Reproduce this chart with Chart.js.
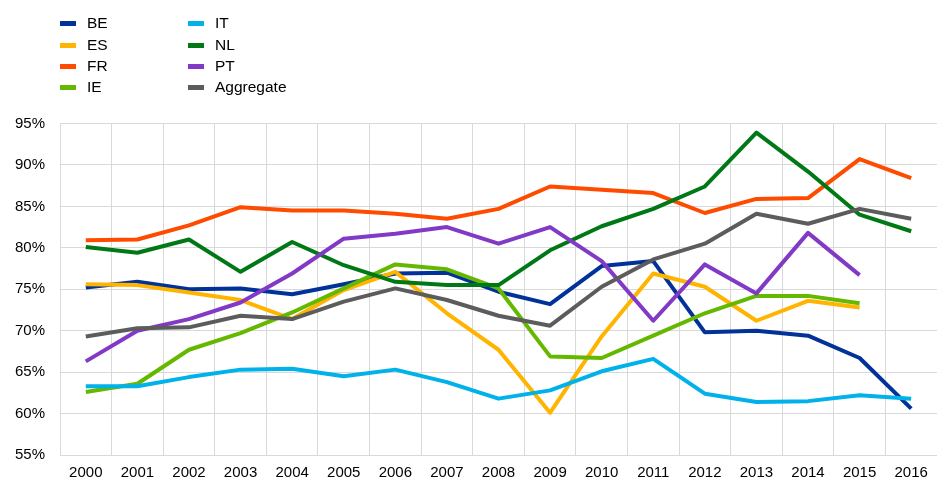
<!DOCTYPE html>
<html>
<head>
<meta charset="utf-8">
<script src="https://cdn.jsdelivr.net/npm/chart.js@4.4.1/dist/chart.umd.min.js"></script>
<style>
  html, body { margin: 0; padding: 0; background: #fff; }
  #wrap { position: relative; width: 937px; height: 480px; }
  #legend { position: absolute; left: 0; top: 0; font-family: "Liberation Sans", Arial, sans-serif; font-size: 15.5px; color: #000; }
  .item { position: absolute; white-space: nowrap; line-height: 16px; }
  .sw { position: absolute; width: 16px; height: 5px; }
</style>
</head>
<body>
<div id="wrap">
  <canvas id="c" width="937" height="480"></canvas>
  <div id="legend"></div>
</div>
<script>
const years = ["2000","2001","2002","2003","2004","2005","2006","2007","2008","2009","2010","2011","2012","2013","2014","2015","2016"];
const BE  = [75.2, 75.9, 75.0, 75.1, 74.4, 75.6, 76.9, 77.0, 74.7, 73.2, 77.8, 78.4, 69.8, 70.0, 69.4, 66.7, 60.6];
const ES  = [75.6, 75.5, 74.6, 73.7, 71.4, 74.9, 77.1, 72.1, 67.7, 60.1, 69.3, 76.9, 75.3, 71.2, 73.6, 72.8, null];
const FR  = [80.9, 81.0, 82.7, 84.9, 84.5, 84.5, 84.1, 83.5, 84.7, 87.4, 87.0, 86.6, 84.2, 85.9, 86.0, 90.7, 88.4];
const IE  = [62.6, 63.6, 67.7, 69.7, 72.2, 75.1, 78.0, 77.4, 75.1, 66.9, 66.7, 69.4, 72.1, 74.2, 74.2, 73.3, null];
const IT  = [63.3, 63.3, 64.4, 65.3, 65.4, 64.5, 65.3, 63.8, 61.8, 62.8, 65.1, 66.6, 62.4, 61.4, 61.5, 62.2, 61.8];
const NL  = [80.1, 79.4, 81.0, 77.1, 80.7, 77.9, 75.9, 75.5, 75.5, 79.7, 82.6, 84.7, 87.4, 93.9, 89.2, 84.0, 82.0];
const PT  = [66.3, 70.0, 71.4, 73.4, 76.9, 81.1, 81.7, 82.5, 80.5, 82.5, 78.4, 71.2, 78.0, 74.5, 81.8, 76.7, null];
const AGG = [69.3, 70.3, 70.4, 71.8, 71.4, 73.5, 75.1, 73.7, 71.8, 70.6, 75.3, 78.6, 80.5, 84.1, 82.9, 84.7, 83.5];

const seriesNames = ["BE", "ES", "FR", "IE", "IT", "NL", "PT", "Aggregate"];
const seriesData = [BE, ES, FR, IE, IT, NL, PT, AGG];
const seriesColors = ["#003299", "#FFB400", "#FF4B00", "#65B800", "#00B1EA", "#007816", "#8139C6", "#5C5C5C"];

const yTicks = [55, 60, 65, 70, 75, 80, 85, 90, 95];

const font = { family: '"Liberation Sans", Arial, sans-serif', size: 15 };

const datasets = seriesNames.map((n, i) => ({
  label: n,
  data: seriesData[i],
  borderColor: seriesColors[i],
  backgroundColor: seriesColors[i],
  borderWidth: 4,
  pointRadius: 0,
  pointHoverRadius: 0,
  tension: 0,
  fill: false,
  spanGaps: false,
  borderJoinStyle: 'round',
  order: seriesNames.length - i
}));

new Chart(document.getElementById('c'), {
  type: 'line',
  data: { labels: years, datasets },
  options: {
    responsive: false,
    animation: false,
    events: [],
    layout: { padding: { top: 123.5, left: 0, right: 0, bottom: 0 } },
    plugins: { legend: { display: false }, tooltip: { enabled: false }, title: { display: false } },
    scales: {
      x: {
        offset: true,
        grid: { offset: true, color: '#d9d9d9', lineWidth: 1, drawTicks: false },
        border: { color: '#d9d9d9' },
        ticks: { font, color: '#000', padding: 9, maxRotation: 0, autoSkip: false },
        afterFit: s => { s.height = 25; }
      },
      y: {
        min: 55, max: 95,
        afterBuildTicks: s => { s.ticks = yTicks.map(v => ({ value: v })); },
        grid: { color: '#d9d9d9', lineWidth: 1, drawTicks: false },
        border: { color: '#d9d9d9' },
        ticks: { font, color: '#000', padding: 15, callback: v => v + '%' },
        afterFit: s => { s.width = 60; }
      }
    }
  }
});

// Custom two-column legend (column-major, 4 rows)
const legend = document.getElementById('legend');
const colX = [60, 188];
const rowY = [23, 45, 66, 87];
seriesNames.forEach((n, i) => {
  const col = Math.floor(i / 4), row = i % 4;
  const sw = document.createElement('div');
  sw.className = 'sw';
  sw.style.left = colX[col] + 'px';
  sw.style.top = (rowY[row] - 2.5) + 'px';
  sw.style.background = seriesColors[i];
  legend.appendChild(sw);
  const t = document.createElement('div');
  t.className = 'item';
  t.style.left = (colX[col] + 27) + 'px';
  t.style.top = (rowY[row] - 8) + 'px';
  t.textContent = n;
  legend.appendChild(t);
});
</script>
</body>
</html>
